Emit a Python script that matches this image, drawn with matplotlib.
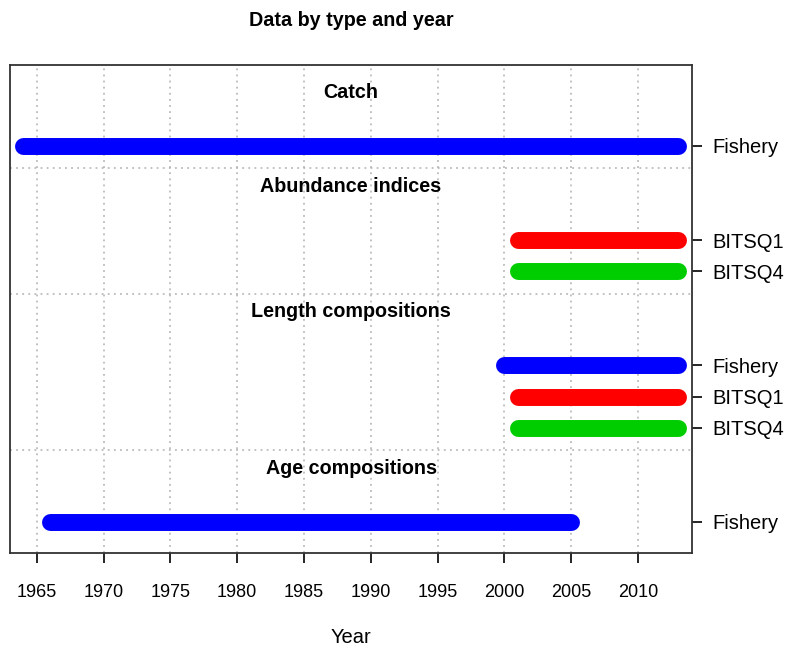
import matplotlib
matplotlib.use("Agg")
import matplotlib.pyplot as plt

plt.rcParams["font.family"] = ["Liberation Sans", "DejaVu Sans"]

# data: one entry per data type, fleets listed top to bottom
data_types = ["Catch", "Abundance indices", "Length compositions", "Age compositions"]
catch_fleets = ["Fishery"]
catch_start = [1964]
catch_end = [2013]
index_fleets = ["BITSQ1", "BITSQ4"]
index_start = [2001, 2001]
index_end = [2013, 2013]
length_fleets = ["Fishery", "BITSQ1", "BITSQ4"]
length_start = [2000, 2001, 2001]
length_end = [2013, 2013, 2013]
age_fleets = ["Fishery"]
age_start = [1966]
age_end = [2005]

fleet_colors = {"Fishery": "#0000FF", "BITSQ1": "#FF0000", "BITSQ4": "#00CD00"}

groups = [
    (data_types[0], catch_fleets, catch_start, catch_end),
    (data_types[1], index_fleets, index_start, index_end),
    (data_types[2], length_fleets, length_start, length_end),
    (data_types[3], age_fleets, age_start, age_end),
]

fig = plt.figure(figsize=(7.9, 6.51), dpi=100)
ax = fig.add_axes([10 / 790, 98 / 651, 682 / 790, 488 / 651])

# build layout from the bottom up
ypos = 1.0
yticks, ylabels, seps = [], [], []
for i, (name, fleets, starts, ends) in enumerate(reversed(groups)):
    for fleet, s, e in zip(reversed(fleets), reversed(starts), reversed(ends)):
        ax.plot([s, e], [ypos, ypos], color=fleet_colors[fleet], lw=12.2,
                solid_capstyle="round", zorder=3)
        yticks.append(ypos)
        ylabels.append(fleet)
        ypos += 1.0
    title_y = ypos - 1.0 + 1.73
    ax.text(0.5, title_y, name, transform=ax.get_yaxis_transform(),
            ha="center", va="center", fontsize=14.2, fontweight="bold")
    if i < len(groups) - 1:
        sep = title_y + 0.58
        seps.append(sep)
        ypos = sep + 0.73
    else:
        top = title_y + 0.87

for s in seps:
    ax.axhline(s, color="#B0B0B0", lw=1.1, ls=(0, (1.2, 2.8)), zorder=1)

xt = list(range(1965, 2011, 5))
for x in xt:
    ax.axvline(x, color="#B0B0B0", lw=1.1, ls=(0, (1.2, 2.8)), zorder=1)

ax.set_xlim(1963, 2014.05)
ax.set_ylim(0, top)
ax.set_xticks(xt)
ax.set_xticklabels([str(x) for x in xt])
ax.yaxis.tick_right()
ax.set_yticks(yticks)
ax.set_yticklabels(ylabels)
ax.tick_params(axis="x", length=7, width=1.2, pad=15, labelsize=13)
ax.tick_params(axis="y", length=7, width=1.2, pad=8, labelsize=14.5)
for sp in ax.spines.values():
    sp.set_linewidth(1.3)
    sp.set_color("#333333")

ax.set_xlabel("Year", fontsize=14.5, labelpad=20)
fig.text(351 / 790, 1 - 20 / 651, "Data by type and year", ha="center", va="center",
         fontsize=14.2, fontweight="bold")

fig.savefig("out.png", dpi=100)
